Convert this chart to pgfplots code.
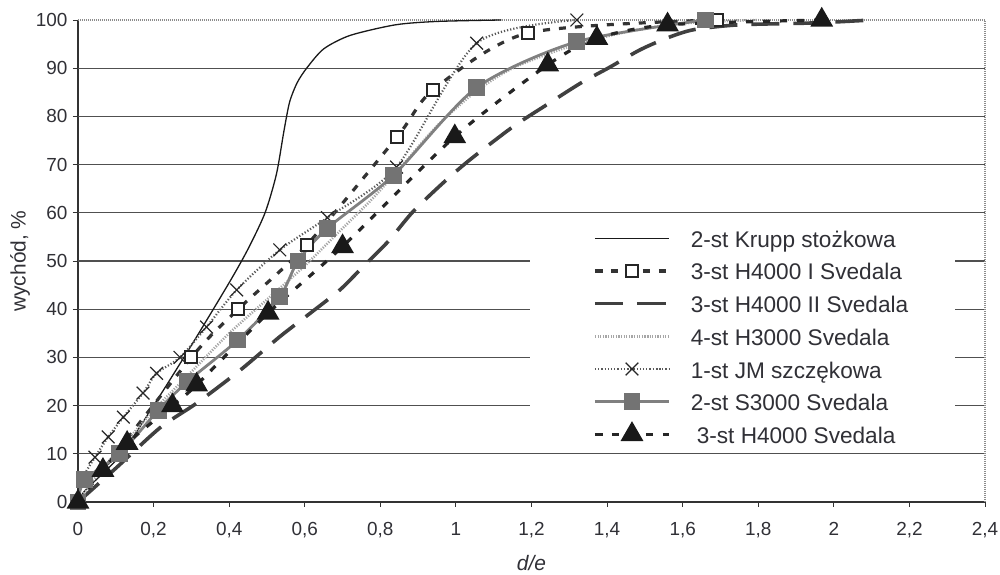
\documentclass[border=0pt]{standalone}
\usepackage{pgfplots}
\pgfplotsset{compat=1.18}
\usepackage{fontspec}
\setmainfont{Liberation Sans}

\definecolor{txt}{HTML}{303036}
\definecolor{gridc}{HTML}{505050}

\begin{document}
\begin{tikzpicture}
\useasboundingbox (-78bp,-73bp) rectangle (922bp,502bp);
\begin{axis}[
  scale only axis, width=907bp, height=482bp,
  xmin=0, xmax=2.4, ymin=0, ymax=100,
  clip=false,
  xtick={0,0.2,0.4,0.6,0.8,1,1.2,1.4,1.6,1.8,2,2.2,2.4},
  ytick={0,10,...,100},
  extra y ticks={10,20,...,90},
  extra y tick labels={},
  extra y tick style={grid=major},
  major grid style={gridc, line width=1.1bp},
  axis x line*=bottom, axis y line*=left,
  axis line style={black!80, line width=1.2bp},
  tick align=outside, major tick length=5bp,
  tick style={black!80, line width=0.9bp},
  tick label style={font=\fontsize{19}{19}\selectfont, text=txt},
  xticklabel style={yshift=-12bp},
  yticklabel style={xshift=-2bp},
  /pgf/number format/use comma,
  /pgf/number format/assume math mode=true,
  xlabel={\itshape d/e},
  ylabel={wychód, \%},
  label style={font=\fontsize{21}{21}\selectfont, text=txt},
  xlabel style={at={([yshift=-61bp]axis description cs:0.5,0)}, anchor=center},
  ylabel style={at={([xshift=-58bp]axis description cs:0,0.5)}, anchor=center},
  legend cell align=left,
  legend style={at={(rel axis cs:0.5678,0.5726)}, anchor=north west,
    draw=none, fill=none, inner sep=0pt, row sep=8.7bp, column sep=20bp,
    font=\fontsize{22.7}{24}\selectfont, text=txt,
    nodes={text height=21bp, text depth=3bp, inner sep=0pt}},
  legend image code/.code={%
    \draw[mark repeat=2, mark phase=2, #1]
      plot coordinates {(0bp,0bp) (37bp,0bp) (74bp,0bp)};},
  every axis plot/.append style={smooth, tension=0.45},
]

% white panel behind the legend, dotted frame on top and right
\fill[white] (axis cs:1.196,10.6) rectangle (axis cs:2.32,58.5);
\draw[black!45, line width=1.2bp, dash pattern=on 1bp off 1bp]
  (rel axis cs:0,1) -- (rel axis cs:1,1) -- (rel axis cs:1,0);

% 2-st Krupp stozkowa
\addplot[black!90, line width=1.3bp, no marks] coordinates {
  (0,0) (0.02,2.5) (0.11,9.5) (0.2,20) (0.3,32.5) (0.4,45.5) (0.45,52.5)
  (0.495,60) (0.525,68) (0.545,77) (0.56,83) (0.58,87) (0.605,90)
  (0.65,94) (0.72,96.8) (0.84,99) (0.95,99.7) (1.12,100)
};
\addlegendentry{2-st Krupp stożkowa}

% 3-st H4000 I Svedala
\addplot[black!80, line width=3.2bp, dash pattern=on 7bp off 9bp,
  mark=square*, mark size=6bp,
  mark options={solid, fill=white, draw=black!85, line width=1.8bp}] coordinates {
  (0,0) (0.3,30) (0.424,40) (0.605,53.3) (0.845,75.8) (0.94,85.5)
  (1.19,97.3) (1.69,100)
};
\addlegendentry{3-st H4000 I Svedala}

% 3-st H4000 II Svedala
\addplot[black!75, line width=3.6bp, dash pattern=on 28bp off 14bp, no marks] coordinates {
  (0,0) (0.1,7) (0.217,15.4) (0.314,20.5) (0.43,27.4) (0.534,34.3)
  (0.62,39.5) (0.693,44) (0.754,48.8) (0.82,54) (0.886,60.2) (0.966,66.2)
  (1.037,71) (1.15,77.8) (1.24,82.4) (1.33,86.9) (1.407,90.2) (1.487,93.8)
  (1.56,96.3) (1.63,98) (1.75,99) (1.95,99.4) (2.1,100)
};
\addlegendentry{3-st H4000 II Svedala}

% 4-st H3000 Svedala
\addplot[black!35, line width=2.6bp, dash pattern=on 1.2bp off 1.4bp, no marks] coordinates {
  (0,0) (0.05,5.5) (0.1,10) (0.2,19) (0.3,27) (0.4,35) (0.5,42) (0.6,49)
  (0.69,56) (0.78,63) (0.86,70) (0.95,78) (1.05,85) (1.15,90) (1.3,94.5)
  (1.45,97.5) (1.6,99.3) (1.8,100)
};
\addlegendentry{4-st H3000 Svedala}

% 1-st JM szczekowa
\addplot[black!65, line width=2.2bp, dash pattern=on 1.2bp off 2bp,
  mark=x, mark size=9bp,
  mark options={solid, line width=1.2bp, draw=black!85}] coordinates {
  (0,0) (0.013,5) (0.045,9.3) (0.08,13.5) (0.12,17.6) (0.172,22.6)
  (0.208,26.7) (0.27,30) (0.34,36.3) (0.42,44) (0.534,52.3) (0.66,59)
  (0.843,69.5) (1.055,95.2) (1.32,100)
};
\addlegendentry{1-st JM szczękowa}

% 2-st S3000 Svedala
\addplot[black!50, line width=2.8bp,
  mark=square*, mark size=7bp,
  mark options={solid, fill=black!55, draw=black!55}] coordinates {
  (0,0) (0.018,4.6) (0.11,10) (0.212,19) (0.29,25) (0.423,33.6)
  (0.534,42.6) (0.582,50) (0.66,56.8) (0.835,67.8) (1.055,86)
  (1.32,95.5) (1.66,100)
};
\addlegendentry{2-st S3000 Svedala}

% 3-st H4000 Svedala
\addplot[black!85, line width=3.2bp, dash pattern=on 7bp off 10bp,
  mark=triangle*, mark size=10bp,
  mark options={solid, fill=black!90, draw=black!90}] coordinates {
  (0,0) (0.066,6.6) (0.13,12.2) (0.25,20) (0.314,24.3) (0.503,39.2)
  (0.70,53) (0.997,75.8) (1.243,90.7) (1.373,96.2) (1.56,99) (1.968,100)
};
\addlegendentry{\hspace{6bp}3-st H4000 Svedala}

\end{axis}
\end{tikzpicture}
\end{document}
